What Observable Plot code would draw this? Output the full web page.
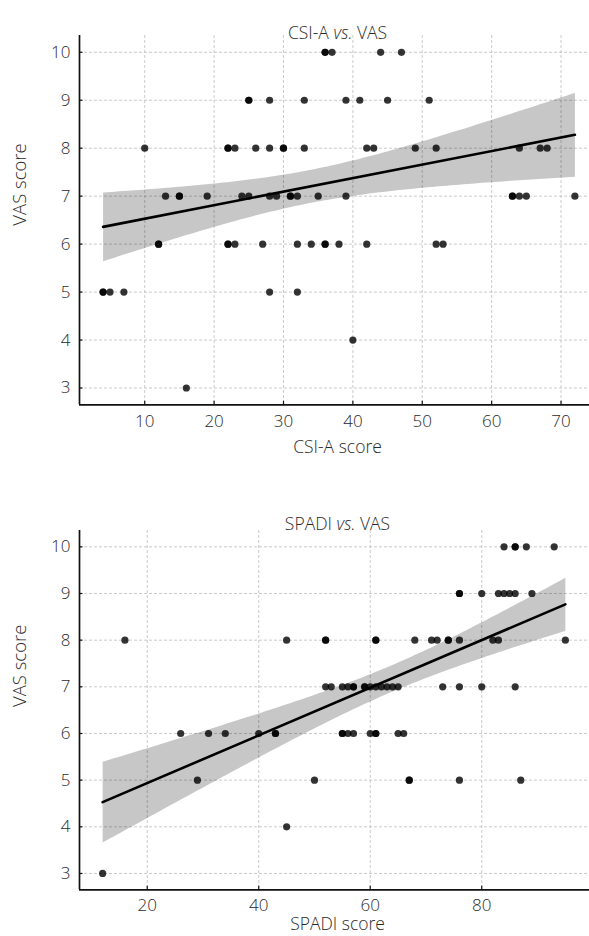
<!DOCTYPE html>
<html><head><meta charset="utf-8">
<script src="https://cdn.jsdelivr.net/npm/d3@7"></script>
<script src="https://cdn.jsdelivr.net/npm/@observablehq/plot@0.6"></script>
<style>
body{margin:0;background:#fff;width:589px;height:936px;overflow:hidden;}
svg{display:block;}
</style></head><body><div id="c"></div>
<script>
// ---- Panel 1: CSI-A vs VAS ----
const csiScore = [
  36,36,37,44,47,
  25,25,28,33,39,41,45,51,
  10,22,22,23,26,28,30,30,33,42,43,49,52,64,67,68,
  13,15,15,19,24,25,28,29,31,31,32,35,39,63,63,64,65,72,
  12,12,22,22,23,27,32,34,36,36,38,42,52,53,
  4,4,5,7,28,32,
  40,
  16
];
const csiVas = [
  10,10,10,10,10,
  9,9,9,9,9,9,9,9,
  8,8,8,8,8,8,8,8,8,8,8,8,8,8,8,8,
  7,7,7,7,7,7,7,7,7,7,7,7,7,7,7,7,7,7,
  6,6,6,6,6,6,6,6,6,6,6,6,6,6,
  5,5,5,5,5,5,
  4,
  3
];
// ---- Panel 2: SPADI vs VAS ----
const spadiScore = [
  84,86,86,88,93,
  76,76,80,83,84,85,86,89,
  16,45,52,52,61,61,68,71,72,74,74,76,82,83,95,
  52,53,55,56,57,57,59,59,60,61,62,63,64,65,73,76,80,86,
  26,31,34,40,43,43,55,55,56,57,60,61,61,65,66,
  29,50,67,67,76,87,
  45,
  12
];
const spadiVas = [
  10,10,10,10,10,
  9,9,9,9,9,9,9,9,
  8,8,8,8,8,8,8,8,8,8,8,8,8,8,8,
  7,7,7,7,7,7,7,7,7,7,7,7,7,7,7,7,7,7,
  6,6,6,6,6,6,6,6,6,6,6,6,6,6,6,
  5,5,5,5,5,5,
  4,
  3
];
const vasTicks = [3,4,5,6,7,8,9,10];
const csiTicks = [10,20,30,40,50,60,70];
const spadiTicks = [20,40,60,80];
const titles = ["CSI-A vs. VAS", "SPADI vs. VAS"];
const xLabels = ["CSI-A score", "SPADI score"];
const yLabel = "VAS score";

const FONT = "'Open Sans', 'Noto Sans', sans-serif";
const INK = "#2a2a2a";

function panel(o) {
  const data = o.xs.map((x, i) => ({x, y: o.ys[i]}));
  const W = 589, H = 468, ml = 79;
  const innerH = H - o.mt - o.mb, innerW = W - ml;
  const yDomain = [2.65, 10.35];
  const svg = Plot.plot({
    width: W, height: H,
    marginLeft: ml, marginRight: 0, marginTop: o.mt, marginBottom: o.mb,
    style: {fontFamily: FONT, fontSize: "17px", color: INK, background: "#fff", fontWeight: 300},
    x: {domain: o.xDomain, range: o.xRange},
    y: {domain: yDomain},
    marks: [
      Plot.ruleX(o.xTicks, {x: d => d, stroke: "#bdbdbd", strokeWidth: 0.8, strokeDasharray: "3,2"}),
      Plot.ruleY(vasTicks, {y: d => d, stroke: "#bdbdbd", strokeWidth: 0.8, strokeDasharray: "3,2"}),
      Plot.linearRegressionY(data, {x: "x", y: "y", fill: "#000", fillOpacity: 0.22, stroke: "none", strokeOpacity: 0}),
      Plot.dot(data, {x: "x", y: "y", r: 3.6, fill: "#000", fillOpacity: 0.8, stroke: "none"}),
      Plot.linearRegressionY(data, {x: "x", y: "y", ci: 0, stroke: "#000", strokeWidth: 2.6}),
      Plot.ruleX([o.xDomain[0]], {stroke: "#111", strokeWidth: 1.7}),
      Plot.ruleY([yDomain[0]], {stroke: "#111", strokeWidth: 1.7}),
      Plot.tickX(o.xTicks, {x: d => d, insetTop: innerH - 3.5, stroke: "#111", strokeWidth: 1.2}),
      Plot.tickY(vasTicks, {y: d => d, insetRight: innerW - 3.5, stroke: "#111", strokeWidth: 1.2}),
      Plot.axisX(o.xTicks, {tickSize: 0, tickPadding: o.xPad, fontSize: 17, label: null}),
      Plot.axisY(vasTicks, {tickSize: 0, tickPadding: 9, fontSize: 17, label: null}),
      Plot.text([o.title], {frameAnchor: "top", dx: 3, dy: o.titleDy, fontSize: 17.5, fill: INK}),
      Plot.text([o.xLabel], {frameAnchor: "bottom", dx: 3, dy: o.xLabDy, fontSize: 17.5, fill: INK}),
      Plot.text([yLabel], {frameAnchor: "left", rotate: -90, dx: -59, dy: o.yLabDy, fontSize: 18.5, fill: INK})
    ]
  });
  d3.select(svg).selectAll("text").each(function() {
    if (this.textContent === o.title) {
      const parts = o.title.split("vs.");
      const t = d3.select(this);
      t.text(null);
      t.append("tspan").text(parts[0]);
      t.append("tspan").attr("font-style", "italic").text("vs.");
      t.append("tspan").text(parts[1]);
    }
  });
  return svg;
}

const c = document.getElementById("c");
c.appendChild(panel({
  xs: csiScore, ys: csiVas, xDomain: [0.6, 75.4], xRange: [79, 598], xTicks: csiTicks,
  title: titles[0], xLabel: xLabels[0], mt: 35, mb: 63.7, xPad: 10.5, titleDy: -8.9, xLabDy: 47.7, yLabDy: 5.5
}));
c.appendChild(panel({
  xs: spadiScore, ys: spadiVas, xDomain: [7.85, 99.15], xRange: [79, 588], xTicks: spadiTicks,
  title: titles[1], xLabel: xLabels[1], mt: 62, mb: 46.7, xPad: 9, titleDy: -12.6, xLabDy: 39.8, yLabDy: -3.2
}));
</script></body></html>
